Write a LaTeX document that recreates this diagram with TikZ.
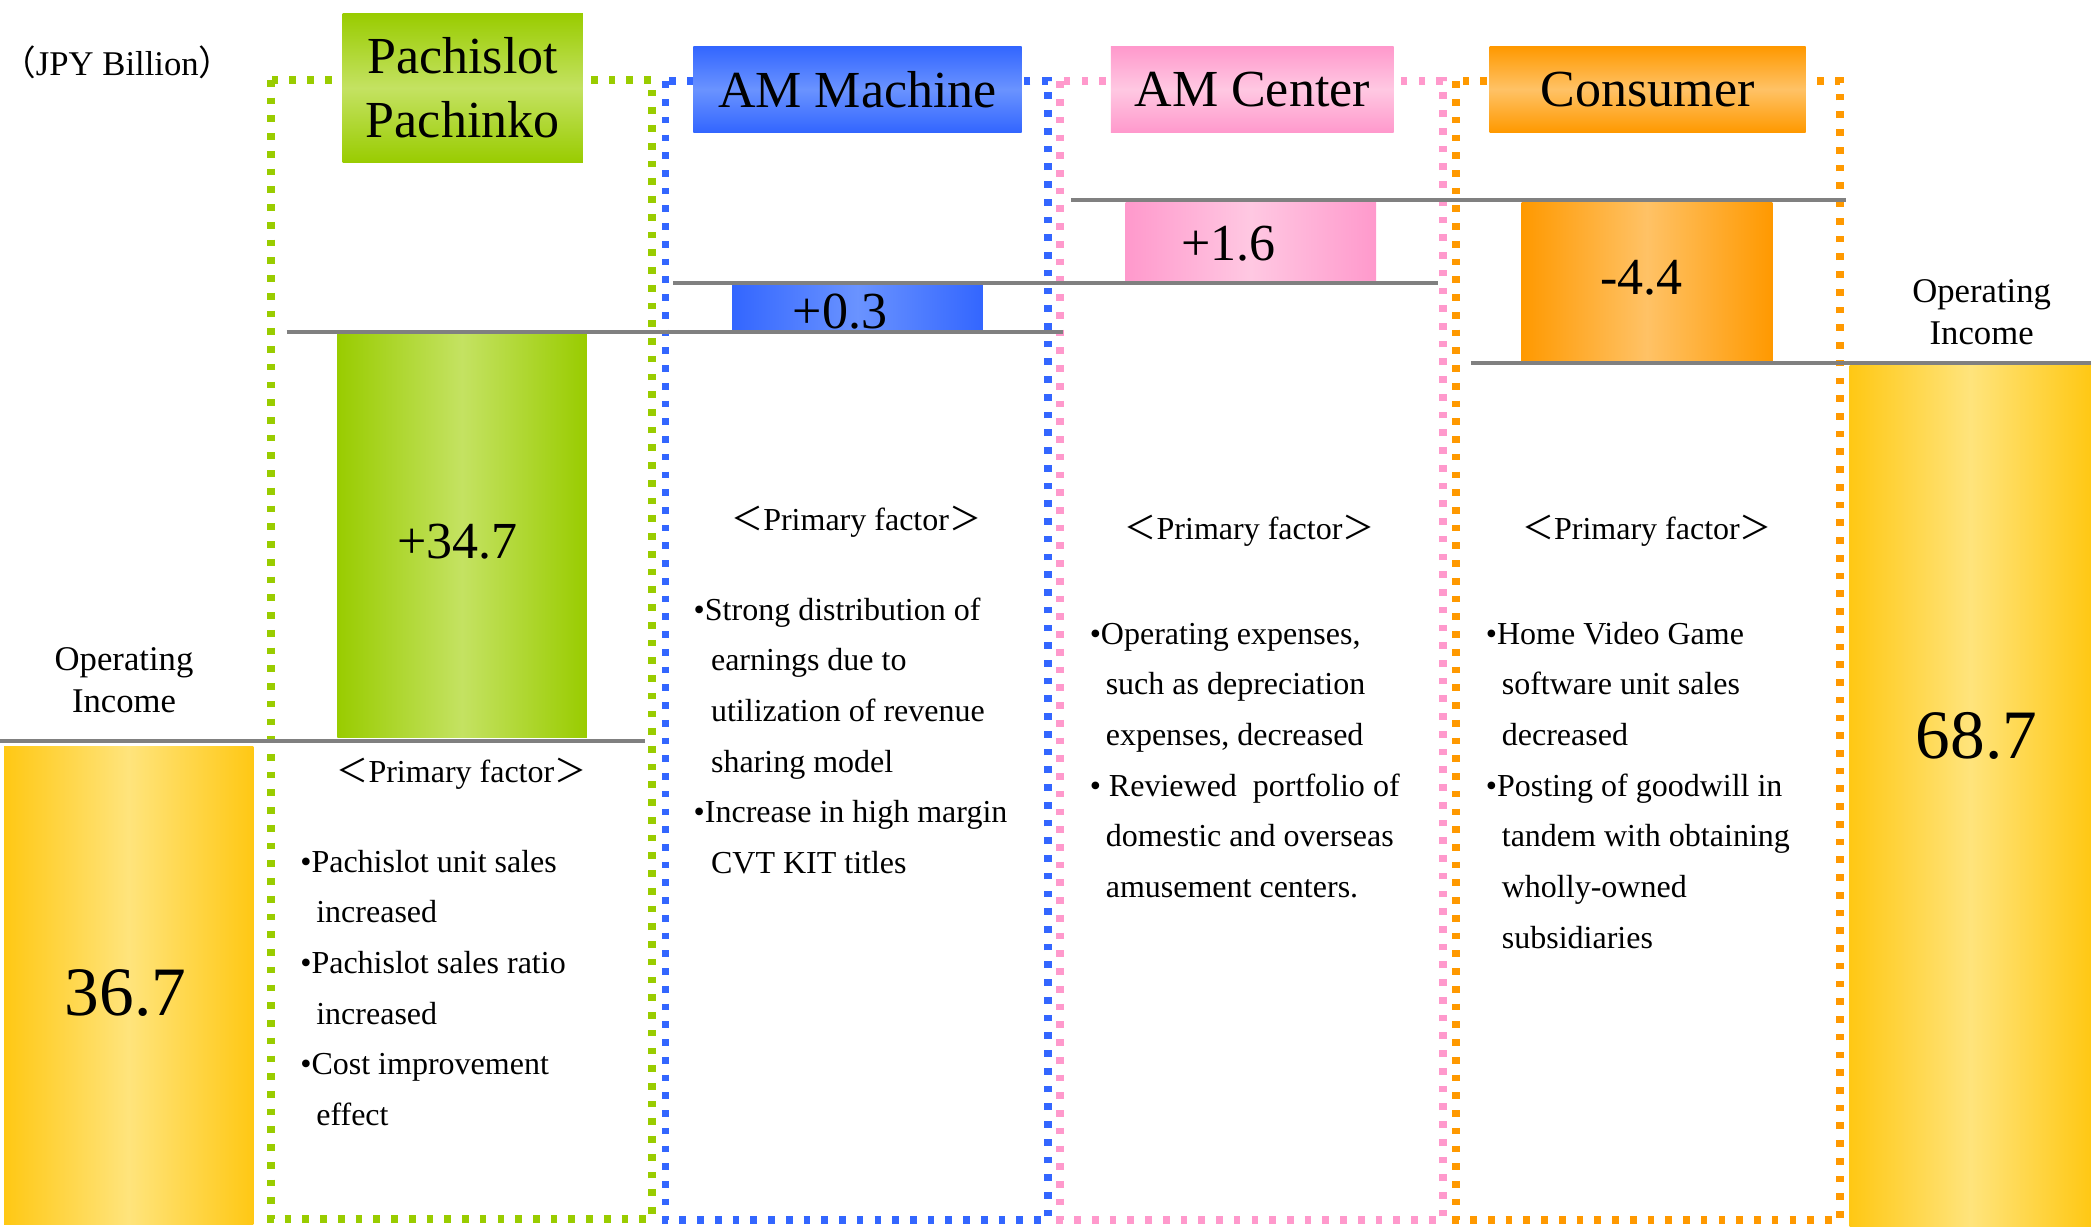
\documentclass[tikz,border=0pt]{standalone}
\usepackage{fontspec}
\setmainfont{Liberation Serif}
\newfontfamily\tnr{Liberation Serif}
\newfontfamily\cjk{Noto Sans CJK JP}
\definecolor{cg}{HTML}{99CC00}
\definecolor{cgl}{HTML}{C4E262}
\definecolor{cb}{HTML}{3366FF}
\definecolor{cbl}{HTML}{6A93FF}
\definecolor{cp}{HTML}{FF99CC}
\definecolor{cpl}{HTML}{FFC8E2}
\definecolor{co}{HTML}{FF9900}
\definecolor{col}{HTML}{FFC266}
\definecolor{cy}{HTML}{FFC814}
\definecolor{cyl}{HTML}{FFE47C}
\definecolor{lgray}{HTML}{808080}
\tikzset{
  hdr/.style={inner sep=0pt, align=center, font=\tnr\fontsize{39}{48}\selectfont},
  barbox/.style={inner sep=0pt},
  num/.style={inner sep=0pt, font=\tnr\fontsize{39}{39}\selectfont},
  bignum/.style={inner sep=0pt, font=\tnr\fontsize{52}{52}\selectfont},
  frm/.style={line width=5.8pt, dash pattern=on 5pt off 8.3pt},
  gl/.style={draw=lgray, line width=3pt},
  txt/.style={inner sep=0pt, anchor=base west, font=\tnr\fontsize{24}{38}\selectfont},
  pf/.style={inner sep=0pt, font=\tnr\fontsize{24}{24}\selectfont},
  oi/.style={inner sep=0pt, align=center, font=\tnr\fontsize{26}{31}\selectfont},
}
\begin{document}
\begin{tikzpicture}[x=1pt, y=-1pt]
\useasboundingbox (0,0) rectangle (1568,920);
% dotted frames
\draw[frm, draw=cg] (203,60) rectangle (489,914);
\draw[frm, draw=cb] (499,61) rectangle (786,915);
\draw[frm, draw=cp] (795,61) rectangle (1082,915);
\draw[frm, draw=co] (1092,61) rectangle (1380,915);
% headers
\node[hdr, minimum width=180pt, minimum height=112pt, top color=cg, bottom color=cg, middle color=cgl] (hG) at (347,66) {Pachislot\\Pachinko};
\node[hdr, minimum width=246pt, minimum height=64pt, top color=cb, bottom color=cb, middle color=cbl] (hB) at (643,67) {AM Machine};
\node[hdr, minimum width=212pt, minimum height=64pt, top color=cp, bottom color=cp, middle color=cpl] (hP) at (939,67) {AM Center};
\node[hdr, minimum width=237pt, minimum height=64pt, top color=co, bottom color=co, middle color=col] (hO) at (1235.5,67) {Consumer};
% bars
\node[barbox, minimum width=187pt, minimum height=358pt, left color=cy, right color=cy, middle color=cyl] (oiL) at (96.5,739) {};
\node[barbox, minimum width=187pt, minimum height=303pt, left color=cg, right color=cg, middle color=cgl] (bG) at (346.5,401.5) {};
\node[barbox, minimum width=188pt, minimum height=34pt, left color=cb, right color=cb, middle color=cbl] (bB) at (643,231) {};
\node[barbox, minimum width=188pt, minimum height=59pt, left color=cp, right color=cp, middle color=cpl] (bP) at (938,181.5) {};
\node[barbox, minimum width=188pt, minimum height=119pt, left color=co, right color=co, middle color=col] (bO) at (1235,211.5) {};
\node[barbox, minimum width=181pt, minimum height=646pt, left color=cy, right color=cy, middle color=cyl] (oiR) at (1477.5,597) {};
% numbers
\node[bignum] (nL) at (94,745) {36.7};
\node[num] (nG) at (343,406) {+34.7};
\node[num] (nB) at (630,234) {+0.3};
\node[num] (nP) at (921,183) {+1.6};
\node[num] (nO) at (1231,208) {-4.4};
\node[bignum] (nR) at (1482,552) {68.7};
% level lines
\draw[gl] (0,556) -- (484,556);
\draw[gl] (215,249) -- (797,249);
\draw[gl] (505,212) -- (1078,212);
\draw[gl] (803,150) -- (1384,150);
\draw[gl] (1103,272) -- (1568,272);
% labels
\node[inner sep=0pt, font=\tnr\fontsize{26}{26}\selectfont] (unit) at (88,47) {{\cjk （}JPY Billion{\cjk ）}};
\node[oi] (oiLt) at (93,510) {Operating\\Income};
\node[oi] (oiRt) at (1486,234) {Operating\\Income};
\node[pf] (pfG) at (346,580) {{\cjk ＜}Primary factor{\cjk ＞}};
\node[pf] (pfB) at (642,391) {{\cjk ＜}Primary factor{\cjk ＞}};
\node[pf] (pfP) at (937,398) {{\cjk ＜}Primary factor{\cjk ＞}};
\node[pf] (pfO) at (1235,398) {{\cjk ＜}Primary factor{\cjk ＞}};
% green text
\node[txt] (g1) at (225,654) {•Pachislot unit sales};
\node[txt] (g2) at (237,692) {increased};
\node[txt] (g3) at (225,730) {•Pachislot sales ratio};
\node[txt] (g4) at (237,768) {increased};
\node[txt] (g5) at (225,806) {•Cost improvement};
\node[txt] (g6) at (237,844) {effect};
% blue text
\node[txt] (b1) at (520,465) {•Strong distribution of};
\node[txt] (b2) at (533,503) {earnings due to};
\node[txt] (b3) at (533,541) {utilization of revenue};
\node[txt] (b4) at (533,579) {sharing model};
\node[txt] (b5) at (520,617) {•Increase in high margin};
\node[txt] (b6) at (533,655) {CVT KIT titles};
% pink text
\node[txt] (p1) at (817,483) {•Operating expenses,};
\node[txt] (p2) at (829,521) {such as depreciation};
\node[txt] (p3) at (829,559) {expenses, decreased};
\node[txt] (p4) at (817,597) {• Reviewed\ \ portfolio of};
\node[txt] (p5) at (829,635) {domestic and overseas};
\node[txt] (p6) at (829,673) {amusement centers.};
% orange text
\node[txt] (o1) at (1114,483) {•Home Video Game};
\node[txt] (o2) at (1126,521) {software unit sales};
\node[txt] (o3) at (1126,559) {decreased};
\node[txt] (o4) at (1114,597) {•Posting of goodwill in};
\node[txt] (o5) at (1126,635) {tandem with obtaining};
\node[txt] (o6) at (1126,673) {wholly-owned};
\node[txt] (o7) at (1126,711) {subsidiaries};
\end{tikzpicture}
\end{document}
